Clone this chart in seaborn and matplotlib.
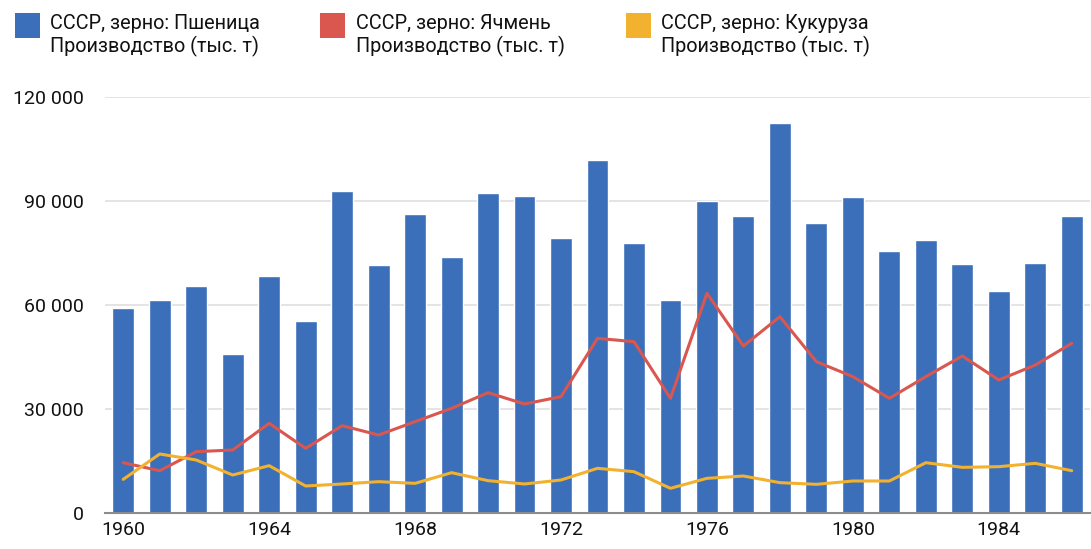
import pandas as pd
import matplotlib.pyplot as plt
import seaborn as sns
from matplotlib.patches import Rectangle
from matplotlib.ticker import FuncFormatter

sns.set_style("white")
plt.rcParams['font.family'] = ['Roboto', 'DejaVu Sans']

years = list(range(1960, 1987))

wheat = [59050, 61350, 65480, 45870, 68460, 55300, 92980, 71540, 86160, 73750,
         92210, 91440, 79420, 101730, 77880, 61350, 89900, 85770, 112500, 83560,
         91060, 75580, 78650, 71920, 63940, 72210, 85770]

barley = [14510, 12200, 17690, 18170, 25870, 18650, 25190, 22500, 26350, 30190,
          34710, 31440, 33560, 50380, 49420, 33080, 63370, 48170, 56630, 43650,
          39330, 33080, 39330, 45290, 38370, 42690, 48940]

corn = [9710, 17020, 15290, 10960, 13650, 7790, 8370, 9040, 8560, 11630,
        9330, 8370, 9520, 12890, 11920, 7120, 10000, 10670, 8750, 8270,
        9230, 9230, 14510, 13170, 13360, 14330, 12200]

labels = ["СССР, зерно: Пшеница\nПроизводство (тыс. т)",
          "СССР, зерно: Ячмень\nПроизводство (тыс. т)",
          "СССР, зерно: Кукуруза\nПроизводство (тыс. т)"]
colors = ["#3b6fba", "#d9574f", "#f2b12f"]

df = pd.DataFrame({"year": years, "wheat": wheat, "barley": barley, "corn": corn})

W, H = 1091, 549
fig = plt.figure(figsize=(W / 100, H / 100), dpi=100)
ax = fig.add_axes([105 / W, 1 - 513 / H, 985 / W, 416 / H])

sns.barplot(data=df, x="year", y="wheat", native_scale=True, color=colors[0],
            saturation=1, width=0.6, ax=ax, zorder=2)
sns.lineplot(data=df, x="year", y="barley", color=colors[1], linewidth=2.2, ax=ax, zorder=3)
sns.lineplot(data=df, x="year", y="corn", color=colors[2], linewidth=2.2, ax=ax, zorder=3)

ax.set_xlim(1959.5, 1986.5)
ax.set_ylim(0, 120000)
ax.set_yticks([0, 30000, 60000, 90000, 120000])
ax.yaxis.set_major_formatter(FuncFormatter(lambda v, p: f"{int(v):,}".replace(",", " ")))
ax.set_xticks(list(range(1960, 1985, 4)))
ax.set_xlabel("")
ax.set_ylabel("")
ax.tick_params(axis="both", length=0, labelsize=14, colors="#111111")
ax.tick_params(axis="y", pad=15)
ax.tick_params(axis="x", pad=6)

ax.grid(axis="y", color="#e2e2e2", linewidth=1.3, zorder=0)
ax.set_axisbelow(True)
for s in ["top", "right", "left"]:
    ax.spines[s].set_visible(False)
ax.spines["bottom"].set_color("#8c8c8c")
ax.spines["bottom"].set_linewidth(1.5)
ax.spines["bottom"].set_zorder(4)

# legend: square swatch + two-line label
swatch_x = [15, 320, 626]
text_x = [50, 356, 661]
for sx, tx, c, lab in zip(swatch_x, text_x, colors, labels):
    fig.add_artist(Rectangle((sx / W, 1 - 38 / H), 25 / W, 25 / H,
                             transform=fig.transFigure, facecolor=c, edgecolor="none"))
    fig.text(tx / W, 1 - 14 / H, lab, ha="left", va="top", fontsize=14.3,
             linespacing=1.2, color="#111111")

plt.savefig("out.png", dpi=100)
